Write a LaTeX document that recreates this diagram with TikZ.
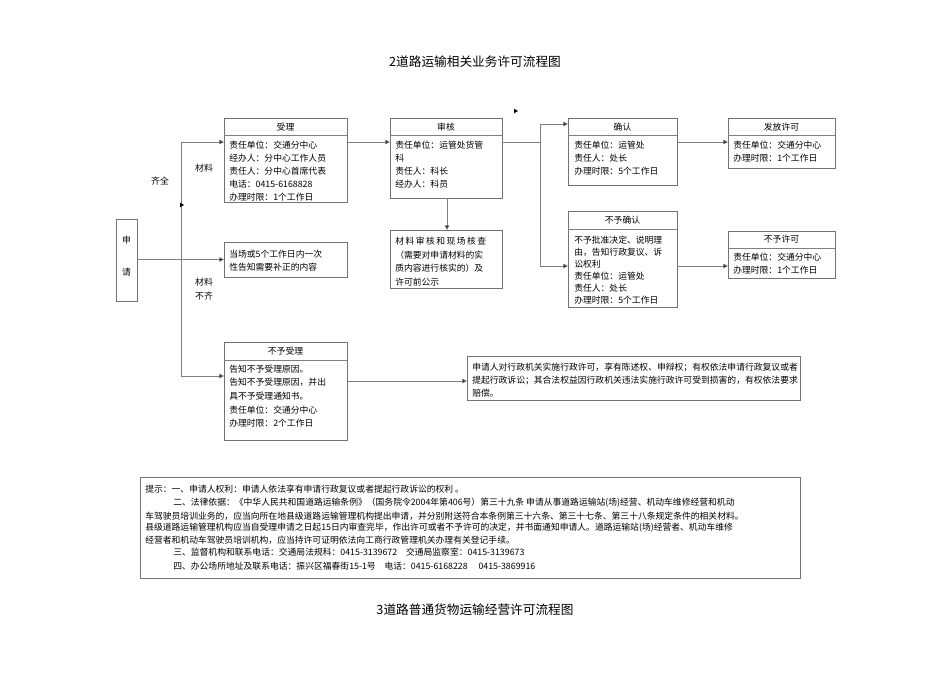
\documentclass[tikz,border=0pt]{standalone}
\usepackage{fontspec}
\setmainfont{Noto Sans CJK SC}
\usetikzlibrary{arrows.meta}
\tikzset{
 box/.style={draw=black!55,line width=0.6pt,inner sep=0pt,outer sep=0pt,fill=white},
 tx/.style={anchor=west,inner sep=0pt,font=\fontsize{6.6}{7}\selectfont},
 hd/.style={anchor=center,inner sep=0pt,font=\fontsize{6.6}{7}\selectfont},
 ln/.style={draw=black!50,line width=0.6pt},
 arr/.style={ln,-{Triangle[length=3.5pt,width=3.5pt,fill=black]}},
 ttl/.style={inner sep=0pt,font=\fontsize{9.5}{10}\selectfont}
}
\newcommand\mybox[5]{\node[box,minimum width={(#4-#2)*0.75pt},minimum height={(#5-#3)*0.75pt}] (#1) at ({(#2+#4)/2},{(#3+#5)/2}) {};}
\begin{document}
\begin{tikzpicture}[x=0.75pt,y=-0.75pt]
\useasboundingbox (0,0) rectangle (950,672);
\node[ttl] (title1) at (475,62) {2道路运输相关业务许可流程图};
\node[ttl] (title2) at (475,610) {3道路普通货物运输经营许可流程图};

% 申请
\mybox{shenqing}{116}{219}{137}{301}
\node[hd] (sq1) at (126.5,240) {申};
\node[hd] (sq2) at (126.5,272) {请};

% 受理
\mybox{shouli}{224}{118}{347}{202}
\draw[ln] (224,135) -- (347,135);
\node[hd] (a0) at (285.5,127) {受理};
\node[tx] (a1) at (229,145) {责任单位：交通分中心};
\node[tx] (a2) at (229,158) {经办人：分中心工作人员};
\node[tx] (a3) at (229,171) {责任人：分中心首席代表};
\node[tx] (a4) at (229,184) {电话：0415-6168828};
\node[tx] (a5) at (229,197) {办理时限：1个工作日};

% 当场
\mybox{dangchang}{224}{242}{347}{277}
\node[tx] (b1) at (229,254) {当场或5个工作日内一次};
\node[tx] (b2) at (229,267) {性告知需要补正的内容};

% 不予受理
\mybox{buyushouli}{224}{342}{347}{440}
\draw[ln] (224,360) -- (347,360);
\node[hd] (c0) at (285.5,351) {不予受理};
\node[tx] (c1) at (229,369) {告知不予受理原因。};
\node[tx] (c2) at (229,382) {告知不予受理原因，并出};
\node[tx] (c3) at (229,396) {具不予受理通知书。};
\node[tx] (c4) at (229,410) {责任单位：交通分中心};
\node[tx] (c5) at (229,423) {办理时限：2个工作日};

% 权利
\mybox{quanli}{467}{356}{800}{400}
\node[tx] (d1) at (472,367) {申请人对行政机关实施行政许可，享有陈述权、申辩权；有权依法申请行政复议或者};
\node[tx] (d2) at (472,380) {提起行政诉讼；其合法权益因行政机关违法实施行政许可受到损害的，有权依法要求};
\node[tx] (d3) at (472,393) {赔偿。};

% 审核
\mybox{shenhe}{390}{118}{502}{198}
\draw[ln] (390,135) -- (502,135);
\node[hd] (e0) at (446,127) {审核};
\node[tx] (e1) at (395,145) {责任单位：运管处货管};
\node[tx] (e2) at (395,158) {科};
\node[tx] (e3) at (395,171) {责任人：科长};
\node[tx] (e4) at (395,184) {经办人：科员};

\mybox{cailiao}{390}{230}{502}{288}
\node[tx] (f1) at (395,241) {材\,料\,审\,核\,和\,现\,场\,核\,查};
\node[tx] (f2) at (395,255) {（需要对申请材料的实};
\node[tx] (f3) at (395,268) {质内容进行核实的）及};
\node[tx] (f4) at (395,282) {许可前公示};

% 确认
\mybox{queren}{568}{118}{677}{185}
\draw[ln] (568,135) -- (677,135);
\node[hd] (g0) at (622.5,127) {确认};
\node[tx] (g1) at (574,145) {责任单位：运管处};
\node[tx] (g2) at (574,158) {责任人：处长};
\node[tx] (g3) at (574,171) {办理时限：5个工作日};

% 不予确认
\mybox{buyuqueren}{568}{211}{677}{307}
\draw[ln] (568,229) -- (677,229);
\node[hd] (h0) at (622.5,220) {不予确认};
\node[tx] (h1) at (574,240) {不予批准决定、说明理};
\node[tx] (h2) at (574,252) {由，告知行政复议、诉};
\node[tx] (h3) at (574,264) {讼权利};
\node[tx] (h4) at (574,276) {责任单位：运管处};
\node[tx] (h5) at (574,288) {责任人：处长};
\node[tx] (h6) at (574,300) {办理时限：5个工作日};

% 发放许可
\mybox{fafang}{728}{118}{835}{168}
\draw[ln] (728,135) -- (835,135);
\node[hd] (i0) at (781.5,127) {发放许可};
\node[tx] (i1) at (733,145) {责任单位：交通分中心};
\node[tx] (i2) at (733,158) {办理时限：1个工作日};

% 不予许可
\mybox{buyuxuke}{728}{231}{835}{278}
\draw[ln] (728,248) -- (835,248);
\node[hd] (j0) at (781.5,239) {不予许可};
\node[tx] (j1) at (733,257) {责任单位：交通分中心};
\node[tx] (j2) at (733,270) {办理时限：1个工作日};

% labels
\node[hd] (l1) at (160,181) {齐全};
\node[hd] (l2) at (204,168) {材料};
\node[hd] (l3) at (204,282) {材料};
\node[hd] (l4) at (204,296) {不齐};

% connectors
\coordinate (vt) at (181,142);
\coordinate (vb) at (181,376);
\draw[ln] (vt) -- (vb);
\draw[arr] (shenqing.east |- dangchang.west) -- (dangchang.west);
\draw[arr] (vt) -- (vt -| shouli.west);
\draw[arr] (vb) -- (vb -| buyushouli.west);
\coordinate (m1) at (181,205);
\fill (m1) ++(3,0) -- ++(-4,-2.3) -- ++(0,4.6) -- cycle;
\coordinate (m2) at (516,111);
\fill (m2) ++(2,0) -- ++(-4,-2.3) -- ++(0,4.6) -- cycle;

\coordinate (sa) at (347,142);
\draw[arr] (sa) -- (sa -| shenhe.west);
\coordinate (sb) at (447,198);
\draw[arr] (sb) -- (sb |- cailiao.north);
\coordinate (sc) at (502,142);
\coordinate (sc2) at (540,142);
\coordinate (sd) at (540,124);
\coordinate (se) at (540,266);
\draw[ln] (sc) -- (sc2);
\draw[ln] (sd) -- (se);
\draw[arr] (sd) -- (sd -| queren.west);
\draw[arr] (se) -- (se -| buyuqueren.west);
\coordinate (sf) at (677,142);
\draw[arr] (sf) -- (sf -| fafang.west);
\coordinate (sg) at (677,266);
\draw[arr] (sg) -- (sg -| buyuxuke.west);
\coordinate (sh) at (347,381);
\draw[arr] (sh) -- (sh -| quanli.west);

% notes
\mybox{notes}{140}{477}{800}{578}
\node[tx] (n1) at (145,489) {提示：一、申请人权利：申请人依法享有申请行政复议或者提起行政诉讼的权利\ 。};
\node[tx] (n2) at (145,503) {\hspace*{21pt}二、法律依据：《中华人民共和国道路运输条例》（国务院令2004年第406号）第三十九条 申请从事道路运输站(场)经营、机动车维修经营和机动};
\node[tx] (n3) at (145,516) {车驾驶员培训业务的，应当向所在地县级道路运输管理机构提出申请，并分别附送符合本条例第三十六条、第三十七条、第三十八条规定条件的相关材料。};
\node[tx] (n4) at (145,528) {县级道路运输管理机构应当自受理申请之日起15日内审查完毕，作出许可或者不予许可的决定，并书面通知申请人。道路运输站(场)经营者、机动车维修};
\node[tx] (n5) at (145,540) {经营者和机动车驾驶员培训机构，应当持许可证明依法向工商行政管理机关办理有关登记手续。};
\node[tx] (n6) at (145,552) {\hspace*{21pt}三、监督机构和联系电话：交通局法规科：0415-3139672\quad 交通局监察室：0415-3139673};
\node[tx] (n7) at (145,566) {\hspace*{21pt}四、办公场所地址及联系电话：振兴区福春街15-1号\quad 电话：0415-6168228\quad\ 0415-3869916};
\end{tikzpicture}
\end{document}
